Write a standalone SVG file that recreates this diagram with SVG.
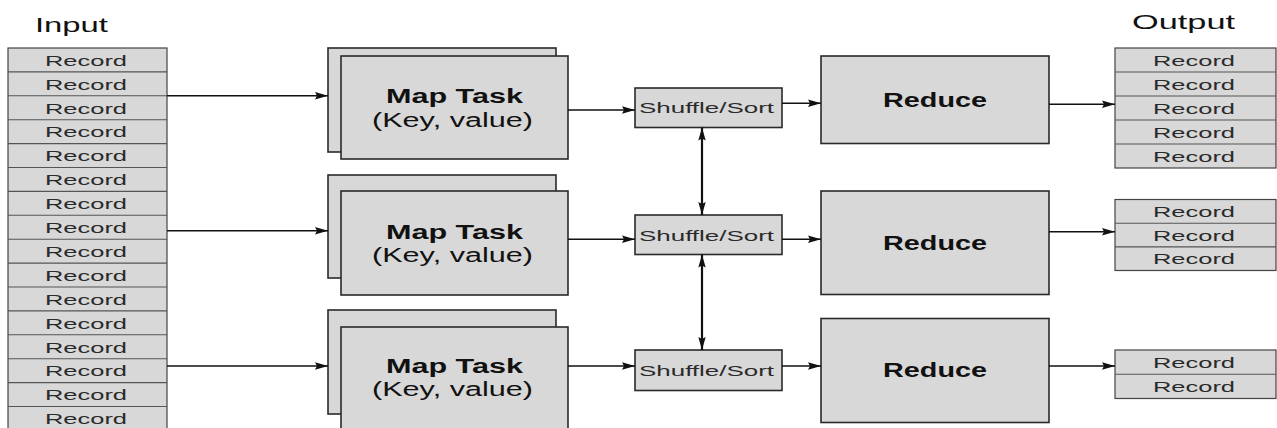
<svg xmlns="http://www.w3.org/2000/svg" width="1277" height="428" viewBox="0 0 1277 428">
<style>
.bg{fill:#ffffff}
.box{fill:#d8d8d8;stroke:#2a2a2a;stroke-width:1.6}
.rec{fill:#d8d8d8;stroke:#444;stroke-width:1.2}
.sep{stroke:#555;stroke-width:1.1}
.rt{font-family:"Liberation Sans",Arial,sans-serif;font-size:15.5px;fill:#2a2a2a;text-anchor:middle}
.title{font-family:"Liberation Sans",Arial,sans-serif;font-size:21px;fill:#111;text-anchor:middle}
.bold{font-family:"Liberation Sans",Arial,sans-serif;font-size:19.5px;font-weight:bold;fill:#111;text-anchor:middle}
.reg{font-family:"Liberation Sans",Arial,sans-serif;font-size:19.5px;fill:#111;text-anchor:middle}
.ss{font-family:"Liberation Sans",Arial,sans-serif;font-size:15.5px;fill:#2a2a2a;text-anchor:middle}
.con{fill:none;stroke:#111;stroke-width:1.4}
.thick{stroke-width:2.2}
</style>
<defs>
<marker id="ah" markerUnits="userSpaceOnUse" markerWidth="14" markerHeight="9" refX="13" refY="4.5" orient="auto-start-reverse" viewBox="0 0 14 9">
<path d="M0,0.8 L13,4.5 L0,8.2 L2,4.5 z" fill="#111"/>
</marker>
</defs>
<rect class="bg" x="0" y="0" width="1277" height="428"/>

<g id="input">
<text class="title" x="71.5" y="32" textLength="73" lengthAdjust="spacingAndGlyphs">Input</text>
<rect class="rec" x="8" y="48" width="159" height="390"/>
<g class="sep">
<line x1="8" y1="71.9" x2="167" y2="71.9"/>
<line x1="8" y1="95.8" x2="167" y2="95.8"/>
<line x1="8" y1="119.7" x2="167" y2="119.7"/>
<line x1="8" y1="143.6" x2="167" y2="143.6"/>
<line x1="8" y1="167.5" x2="167" y2="167.5"/>
<line x1="8" y1="191.4" x2="167" y2="191.4"/>
<line x1="8" y1="215.3" x2="167" y2="215.3"/>
<line x1="8" y1="239.2" x2="167" y2="239.2"/>
<line x1="8" y1="263.1" x2="167" y2="263.1"/>
<line x1="8" y1="287" x2="167" y2="287"/>
<line x1="8" y1="310.9" x2="167" y2="310.9"/>
<line x1="8" y1="334.8" x2="167" y2="334.8"/>
<line x1="8" y1="358.7" x2="167" y2="358.7"/>
<line x1="8" y1="382.6" x2="167" y2="382.6"/>
<line x1="8" y1="406.5" x2="167" y2="406.5"/>
</g>
<text class="rt" x="86" y="65.7" textLength="82" lengthAdjust="spacingAndGlyphs">Record</text>
<text class="rt" x="86" y="89.6" textLength="82" lengthAdjust="spacingAndGlyphs">Record</text>
<text class="rt" x="86" y="113.5" textLength="82" lengthAdjust="spacingAndGlyphs">Record</text>
<text class="rt" x="86" y="137.4" textLength="82" lengthAdjust="spacingAndGlyphs">Record</text>
<text class="rt" x="86" y="161.3" textLength="82" lengthAdjust="spacingAndGlyphs">Record</text>
<text class="rt" x="86" y="185.2" textLength="82" lengthAdjust="spacingAndGlyphs">Record</text>
<text class="rt" x="86" y="209.1" textLength="82" lengthAdjust="spacingAndGlyphs">Record</text>
<text class="rt" x="86" y="233" textLength="82" lengthAdjust="spacingAndGlyphs">Record</text>
<text class="rt" x="86" y="256.9" textLength="82" lengthAdjust="spacingAndGlyphs">Record</text>
<text class="rt" x="86" y="280.8" textLength="82" lengthAdjust="spacingAndGlyphs">Record</text>
<text class="rt" x="86" y="304.7" textLength="82" lengthAdjust="spacingAndGlyphs">Record</text>
<text class="rt" x="86" y="328.6" textLength="82" lengthAdjust="spacingAndGlyphs">Record</text>
<text class="rt" x="86" y="352.5" textLength="82" lengthAdjust="spacingAndGlyphs">Record</text>
<text class="rt" x="86" y="376.4" textLength="82" lengthAdjust="spacingAndGlyphs">Record</text>
<text class="rt" x="86" y="400.3" textLength="82" lengthAdjust="spacingAndGlyphs">Record</text>
<text class="rt" x="86" y="424.2" textLength="82" lengthAdjust="spacingAndGlyphs">Record</text>
</g>

<g id="map1">
<rect class="box" x="328" y="48" width="228" height="104"/>
<rect class="box" x="341" y="56" width="227" height="103"/>
<text class="bold" x="454.5" y="103" textLength="137" lengthAdjust="spacingAndGlyphs">Map Task</text>
<text class="reg" x="452.5" y="126.7" textLength="161" lengthAdjust="spacingAndGlyphs">(Key, value)</text>
</g>
<g id="map2">
<rect class="box" x="328" y="175" width="228" height="103"/>
<rect class="box" x="341" y="191" width="227" height="104"/>
<text class="bold" x="454.5" y="239" textLength="137" lengthAdjust="spacingAndGlyphs">Map Task</text>
<text class="reg" x="452.5" y="261.7" textLength="161" lengthAdjust="spacingAndGlyphs">(Key, value)</text>
</g>
<g id="map3">
<rect class="box" x="328" y="310" width="228" height="104"/>
<rect class="box" x="341" y="327" width="227" height="110"/>
<text class="bold" x="454.5" y="372.7" textLength="137" lengthAdjust="spacingAndGlyphs">Map Task</text>
<text class="reg" x="452.5" y="396" textLength="161" lengthAdjust="spacingAndGlyphs">(Key, value)</text>
</g>

<g id="shuffle1">
<rect class="box" x="635" y="88" width="147" height="39.5"/>
<text class="ss" x="706.5" y="113.3" textLength="135" lengthAdjust="spacingAndGlyphs">Shuffle/Sort</text>
</g>
<g id="shuffle2">
<rect class="box" x="635" y="215" width="147" height="39.5"/>
<text class="ss" x="706.5" y="241" textLength="135" lengthAdjust="spacingAndGlyphs">Shuffle/Sort</text>
</g>
<g id="shuffle3">
<rect class="box" x="635" y="350" width="147" height="40.5"/>
<text class="ss" x="706.5" y="375.8" textLength="135" lengthAdjust="spacingAndGlyphs">Shuffle/Sort</text>
</g>

<g id="reduce1">
<rect class="box" x="821" y="56" width="228" height="87.5"/>
<text class="bold" x="935" y="106.7" textLength="104" lengthAdjust="spacingAndGlyphs">Reduce</text>
</g>
<g id="reduce2">
<rect class="box" x="821" y="191" width="228" height="103.5"/>
<text class="bold" x="935" y="250" textLength="104" lengthAdjust="spacingAndGlyphs">Reduce</text>
</g>
<g id="reduce3">
<rect class="box" x="821" y="318.5" width="228" height="104"/>
<text class="bold" x="935" y="376.7" textLength="104" lengthAdjust="spacingAndGlyphs">Reduce</text>
</g>

<g id="output">
<text class="title" x="1183.5" y="29.3" font-size="20" textLength="103" lengthAdjust="spacingAndGlyphs">Output</text>
<g id="out1">
<rect class="rec" x="1115" y="48" width="161" height="120"/>
<g class="sep">
<line x1="1115" y1="72" x2="1276" y2="72"/>
<line x1="1115" y1="96" x2="1276" y2="96"/>
<line x1="1115" y1="120" x2="1276" y2="120"/>
<line x1="1115" y1="144" x2="1276" y2="144"/>
</g>
<text class="rt" x="1194" y="65.7" textLength="82" lengthAdjust="spacingAndGlyphs">Record</text>
<text class="rt" x="1194" y="89.7" textLength="82" lengthAdjust="spacingAndGlyphs">Record</text>
<text class="rt" x="1194" y="113.7" textLength="82" lengthAdjust="spacingAndGlyphs">Record</text>
<text class="rt" x="1194" y="137.7" textLength="82" lengthAdjust="spacingAndGlyphs">Record</text>
<text class="rt" x="1194" y="161.7" textLength="82" lengthAdjust="spacingAndGlyphs">Record</text>
</g>
<g id="out2">
<rect class="rec" x="1115" y="199.5" width="161" height="71"/>
<g class="sep">
<line x1="1115" y1="223.2" x2="1276" y2="223.2"/>
<line x1="1115" y1="246.9" x2="1276" y2="246.9"/>
</g>
<text class="rt" x="1194" y="217" textLength="82" lengthAdjust="spacingAndGlyphs">Record</text>
<text class="rt" x="1194" y="240.7" textLength="82" lengthAdjust="spacingAndGlyphs">Record</text>
<text class="rt" x="1194" y="264.4" textLength="82" lengthAdjust="spacingAndGlyphs">Record</text>
</g>
<g id="out3">
<rect class="rec" x="1115" y="350" width="161" height="48.5"/>
<g class="sep">
<line x1="1115" y1="374.2" x2="1276" y2="374.2"/>
</g>
<text class="rt" x="1194" y="367.7" textLength="82" lengthAdjust="spacingAndGlyphs">Record</text>
<text class="rt" x="1194" y="391.9" textLength="82" lengthAdjust="spacingAndGlyphs">Record</text>
</g>
</g>

<g id="connectors">
<line class="con" x1="167" y1="95.7" x2="328" y2="95.7" marker-end="url(#ah)"/>
<line class="con" x1="167" y1="230.7" x2="328" y2="230.7" marker-end="url(#ah)"/>
<line class="con" x1="167" y1="366" x2="328" y2="366" stroke-width="1.1" marker-end="url(#ah)"/>
<line class="con" x1="568" y1="110" x2="635" y2="110" marker-end="url(#ah)"/>
<line class="con" x1="568" y1="239.3" x2="635" y2="239.3" stroke-width="1.1" marker-end="url(#ah)"/>
<line class="con" x1="568" y1="366" x2="635" y2="366" stroke-width="1.1" marker-end="url(#ah)"/>
<line class="con" x1="782" y1="103.3" x2="821" y2="103.3" stroke-width="1.1" marker-end="url(#ah)"/>
<line class="con" x1="782" y1="239.3" x2="821" y2="239.3" stroke-width="1.1" marker-end="url(#ah)"/>
<line class="con" x1="782" y1="366" x2="821" y2="366" stroke-width="1.1" marker-end="url(#ah)"/>
<line class="con" x1="1049" y1="104.3" x2="1115" y2="104.3" stroke-width="1.1" marker-end="url(#ah)"/>
<line class="con" x1="1049" y1="231.7" x2="1115" y2="231.7" marker-end="url(#ah)"/>
<line class="con" x1="1049" y1="366" x2="1115" y2="366" stroke-width="1.1" marker-end="url(#ah)"/>
<line class="con thick" x1="702" y1="127.5" x2="702" y2="215" marker-start="url(#ah)" marker-end="url(#ah)"/>
<line class="con thick" x1="702" y1="254.5" x2="702" y2="350" marker-start="url(#ah)" marker-end="url(#ah)"/>
</g>
</svg>
